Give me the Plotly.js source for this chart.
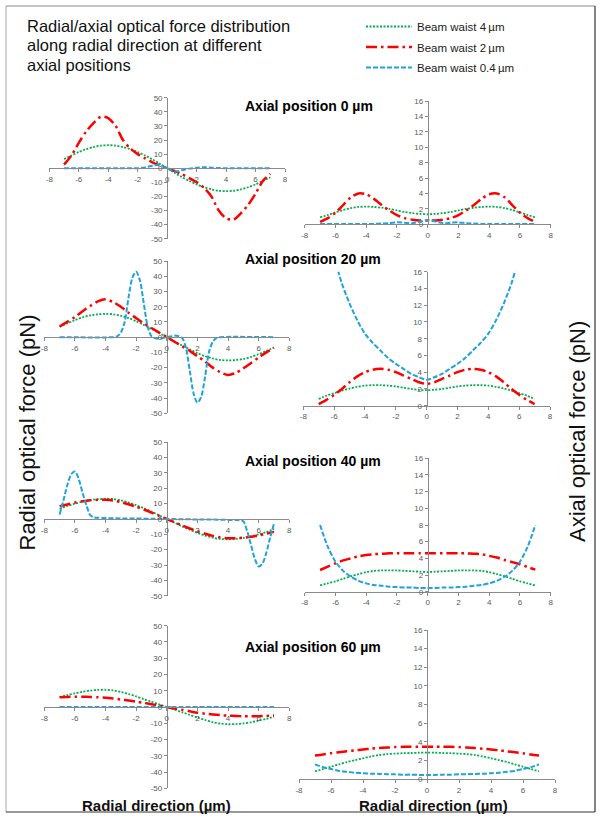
<!DOCTYPE html>
<html><head><meta charset="utf-8">
<script src="https://cdn.plot.ly/plotly-3.0.1.min.js"></script>
<style>html,body{margin:0;padding:0;background:#fff}#chart{width:602px;height:822px}</style>
</head><body><div id="chart"></div>
<script>
// ---------------- DATA ----------------
const seriesNames = ['Beam waist 4\u2009\u00b5m', 'Beam waist 2\u2009\u00b5m', 'Beam waist 0.4\u2009\u00b5m'];
const panelTitles = ['Axial position 0 \u00b5m', 'Axial position 20 \u00b5m', 'Axial position 40 \u00b5m', 'Axial position 60 \u00b5m'];

const radialX = [-7,-6.5,-6,-5.5,-5,-4.5,-4,-3.5,-3,-2.5,-2,-1.5,-1,-0.5,0,0.5,1,1.5,2,2.5,3,3.5,4,4.5,5,5.5,6,6.5,7];

// Axial position 0 um
const radial0_w4  = [6.5,9,11.5,13.5,15,16,16.3,16,15,13.5,11.5,9,6.3,3.2,0,-3.2,-6.3,-9,-11.5,-13.5,-15,-16,-16.3,-16,-15,-13.5,-11.5,-9,-6.5];
const radial0_w2  = [2.5,9,18,26,32,36.5,35.5,30,20,14,10,7,4.2,2,0,-2,-4.2,-7,-10,-14,-20,-30,-35.5,-36.5,-32,-26,-18,-9,-4];
const radial0_w04 = [0,0,0,0,0,0,0,0,0,0,0,0.5,1.8,2.4,0,-2.4,-1.5,-0.3,0.3,0.7,0.4,0.1,0,0,0,0,0,0,0];
const axial0_w4   = [0.9,1.2,1.55,1.85,2.1,2.25,2.3,2.25,2.15,2.0,1.8,1.6,1.45,1.35,1.3,1.35,1.45,1.6,1.8,2.0,2.15,2.25,2.3,2.25,2.1,1.85,1.55,1.2,0.9];
const axial0_w2   = [0.3,0.8,1.5,2.5,3.5,4.0,3.9,3.3,2.5,1.8,1.2,0.8,0.6,0.5,0.5,0.5,0.6,0.8,1.2,1.8,2.5,3.3,3.9,4.0,3.5,2.5,1.5,0.8,0.3];
const axial0_w04  = [0.05,0.05,0.05,0.05,0.05,0.05,0.05,0.05,0.1,0.15,0.25,0.2,0.15,0.35,0.55,0.35,0.15,0.2,0.25,0.15,0.1,0.05,0.05,0.05,0.05,0.05,0.05,0.05,0.05];

// Axial position 20 um
const radial20_w4  = [6.8,9,11.2,13,14.3,15,15.3,15,14,12.5,10.5,8,5.5,2.8,0,-2.8,-5.5,-8,-10.5,-12.5,-14,-15,-15.3,-15,-14.3,-13,-11.2,-9,-6.8];
const radial20_w2  = [7,10,13.3,17,20.5,23.5,24.8,23,20,16,12.5,9,6,3,0,-3,-6,-9,-12.5,-16,-20,-23,-24.8,-23.5,-20.5,-17,-13.3,-10,-7];
const radial20_w04X = [-7,-3.5,-3.25,-3,-2.75,-2.5,-2.25,-2,-1.75,-1.5,-1.25,-1,-0.75,-0.5,-0.25,0,0.25,0.5,0.75,1,1.25,1.5,1.75,2,2.25,2.5,2.75,3,3.25,3.5,7];
const radial20_w04  = [0,0,0.5,3,10,26,39,43,37,22,7,0.5,-0.7,-1,-0.5,0,0.5,1,0.7,-0.5,-7,-22,-37,-43,-39,-26,-10,-3,-0.5,0,0];
const axial20_w4   = [0.8,1.2,1.5,1.8,2.05,2.25,2.4,2.45,2.45,2.4,2.3,2.15,2.0,1.9,1.85,1.9,2.0,2.15,2.3,2.4,2.45,2.45,2.4,2.25,2.05,1.8,1.5,1.2,0.8];
const axial20_w2   = [0.2,0.7,1.3,2.0,2.8,3.5,4.0,4.3,4.4,4.3,4.0,3.6,3.2,2.8,2.6,2.8,3.2,3.6,4.0,4.3,4.4,4.3,4.0,3.5,2.8,2.0,1.3,0.7,0.2];
const axial20_w04X = [-6,-5.5,-5,-4.5,-4,-3.5,-3,-2.5,-2,-1.5,-1,-0.5,0,0.5,1,1.5,2,2.5,3,3.5,4,4.5,5,5.5,6];
const axial20_w04  = [17.8,14.6,12.2,10.2,8.6,7.5,6.6,5.7,5.0,4.4,3.8,3.4,3.1,3.4,3.8,4.4,5.0,5.7,6.6,7.5,8.6,10.2,12.2,14.6,17.8];

// Axial position 40 um
const radial40_w4  = [6.5,8.5,10,11.3,12.3,12.9,13.2,13,12.2,10.8,9,7,4.8,2.4,0,-2.4,-4.8,-7,-9,-10.8,-12.2,-13,-13.2,-12.9,-12.3,-11.3,-10,-8.5,-6.5];
const radial40_w2  = [8.3,9.5,10.7,11.6,12.2,12.5,12.5,12,11,9.6,8,6.2,4.2,2.1,0,-2.1,-4.2,-6.2,-8,-9.6,-11,-12,-12.5,-12.5,-12.2,-11.6,-10.7,-9.5,-8.3];
const radial40_w04X = [-7,-6.75,-6.5,-6.25,-6,-5.75,-5.5,-5.25,-5,-4.75,-4.5,-4,-3,-2,-1,0,1,2,3,4,4.5,4.75,5,5.25,5.5,5.75,6,6.25,6.5,6.75,7];
const radial40_w04  = [3,12,22,29,31,26,17,9,2.5,1,0.8,0.6,0.4,0.3,0.15,0,-0.15,-0.3,-0.4,-0.6,-0.7,-0.8,-1.5,-8,-17,-26,-31,-29,-22,-12,-3];
const axial40_w4   = [0.75,1.0,1.25,1.55,1.85,2.1,2.35,2.5,2.55,2.55,2.55,2.5,2.45,2.4,2.35,2.4,2.45,2.5,2.55,2.55,2.55,2.5,2.35,2.1,1.85,1.55,1.25,1.0,0.75];
const axial40_w2   = [2.6,3.0,3.4,3.75,4.0,4.25,4.4,4.5,4.55,4.6,4.6,4.6,4.6,4.6,4.6,4.6,4.6,4.6,4.6,4.6,4.55,4.5,4.3,4.1,3.8,3.55,3.3,2.95,2.65];
const axial40_w04  = [8,5.4,3.6,2.5,1.8,1.3,1.0,0.8,0.7,0.6,0.55,0.5,0.5,0.45,0.45,0.45,0.5,0.5,0.55,0.6,0.7,0.8,1.0,1.3,1.8,2.5,3.6,5.4,8];

// Axial position 60 um
const radial60_w4  = [6,7.3,8.4,9.4,10.1,10.5,10.6,10.2,9.3,8,6.5,4.8,3.2,1.6,0,-1.6,-3.2,-4.8,-6.5,-8,-9.3,-10.2,-10.6,-10.5,-10.1,-9.4,-8.4,-7.3,-6];
const radial60_w2  = [6,6.2,6.3,6.3,6.2,6,5.7,5.2,4.6,4,3.3,2.5,1.7,0.9,0,-0.9,-1.7,-2.6,-3.5,-4.1,-4.6,-5,-5.3,-5.5,-5.7,-5.7,-5.7,-5.5,-5.2];
const radial60_w04 = [0,0,0,0,0,0,0,0,0,0,0,0,0,0,0,0,0,0,0,0,0,0,0,0,0,0,0,0,0];
const axial60_w4   = [0.85,1.1,1.35,1.6,1.85,2.05,2.25,2.45,2.6,2.7,2.75,2.8,2.82,2.85,2.85,2.85,2.82,2.8,2.75,2.7,2.6,2.45,2.25,2.05,1.85,1.6,1.35,1.1,0.85];
const axial60_w2   = [2.55,2.65,2.8,2.9,3.0,3.1,3.2,3.28,3.35,3.4,3.45,3.48,3.5,3.5,3.5,3.5,3.5,3.48,3.45,3.4,3.35,3.28,3.2,3.1,3.0,2.9,2.8,2.65,2.55];
const axial60_w04  = [1.6,1.3,1.1,0.9,0.8,0.7,0.65,0.6,0.58,0.55,0.53,0.5,0.5,0.47,0.45,0.47,0.5,0.5,0.53,0.55,0.58,0.6,0.65,0.7,0.8,0.9,1.1,1.3,1.6];

// Tick labels
const radialTickVals = [-8,-6,-4,-2,0,2,4,6,8];
const radialTickText = ['-8','-6','-4','-2','0','2','4','6','8'];
const radialForceTickVals = [-50,-40,-30,-20,-10,0,10,20,30,40,50];
const radialForceTickText = ['-50','-40','-30','-20','-10','0','10','20','30','40','50'];
const axialForceTickVals = [0,2,4,6,8,10,12,14,16];
const axialForceTickText = ['0','2','4','6','8','10','12','14','16'];

// ---------------- LAYOUT / STYLE ----------------
const W = 602, H = 822;
const styles = [
  {color:'#00b050', dash:'2px,1.5px', width:1.8},
  {color:'#ff0000', dash:'11px,4px,2.5px,4px', width:2.5},
  {color:'#1fa2dd', dash:'5px,2px', width:2}
];
// pixel boxes for each panel: [left, right], [top, bottom]
const panels = [
  {kind:'radial', px:[49.3,285],  py:[97.7,238.7], data:[[radialX,radial0_w4],[radialX,radial0_w2],[radialX,radial0_w04]]},
  {kind:'axial',  px:[304.7,550.7], py:[101,224.3], data:[[radialX,axial0_w4],[radialX,axial0_w2],[radialX,axial0_w04]]},
  {kind:'radial', px:[44.3,289.3], py:[261,413.3], data:[[radialX,radial20_w4],[radialX,radial20_w2],[radial20_w04X,radial20_w04]]},
  {kind:'axial',  px:[303.3,550],  py:[271.7,405.7], data:[[radialX,axial20_w4],[radialX,axial20_w2],[axial20_w04X,axial20_w04]]},
  {kind:'radial', px:[44.3,289.3], py:[442.3,595.7], data:[[radialX,radial40_w4],[radialX,radial40_w2],[radial40_w04X,radial40_w04]]},
  {kind:'axial',  px:[304.7,550.7], py:[458.3,591.7], data:[[radialX,axial40_w4],[radialX,axial40_w2],[radialX,axial40_w04]]},
  {kind:'radial', px:[44.3,289.3], py:[625.7,788.3], data:[[radialX,radial60_w4],[radialX,radial60_w2],[radialX,radial60_w04]]},
  {kind:'axial',  px:[299,555],    py:[630,779.3], data:[[radialX,axial60_w4],[radialX,axial60_w2],[radialX,axial60_w04]]}
];

const tickFont = {family:'Liberation Sans, Arial, sans-serif', size:8, color:'#595959'};
const axisCommon = {showgrid:false, zeroline:false, showline:true, linecolor:'#8a8a8a', linewidth:1,
  ticks:'outside', ticklen:3, tickcolor:'#8a8a8a', tickwidth:1, tickfont:tickFont, fixedrange:true, tickmode:'array'};

const traces = [];
const layout = {
  width:W, height:H, margin:{l:0,r:0,t:0,b:0}, paper_bgcolor:'#ffffff', plot_bgcolor:'rgba(0,0,0,0)',
  showlegend:true,
  legend:{x:361/W, y:1-12/H, xanchor:'left', yanchor:'top', bgcolor:'rgba(0,0,0,0)', itemwidth:46,
    traceorder:'grouped', tracegroupgap:1.5,
    font:{family:'Liberation Sans, Arial, sans-serif', size:11.5, color:'#222'}},
  annotations:[], shapes:[]
};

panels.forEach((p, i) => {
  const n = i + 1;
  const xa = 'xaxis' + (n === 1 ? '' : n), ya = 'yaxis' + (n === 1 ? '' : n);
  const xref = 'x' + (n === 1 ? '' : n), yref = 'y' + (n === 1 ? '' : n);
  const xDom = [p.px[0]/W, p.px[1]/W];
  const yDom = [1 - p.py[1]/H, 1 - p.py[0]/H];
  const xMid = (xDom[0] + xDom[1]) / 2;
  const yMid = (yDom[0] + yDom[1]) / 2;
  layout[xa] = Object.assign({}, axisCommon, {domain:xDom, range:[-8,8], tickvals:radialTickVals, ticktext:radialTickText});
  if (p.kind === 'radial') {
    Object.assign(layout[xa], {anchor:'free', position:yMid});
    layout[ya] = Object.assign({}, axisCommon, {domain:yDom, range:[-50,50], anchor:'free', position:xMid,
      tickvals:radialForceTickVals, ticktext:radialForceTickText});
  } else {
    Object.assign(layout[xa], {anchor:yref});
    layout[ya] = Object.assign({}, axisCommon, {domain:yDom, range:[0,16], anchor:'free', position:xMid,
      tickvals:axialForceTickVals, ticktext:axialForceTickText});
  }
  p.data.forEach((d, s) => {
    traces.push({
      type:'scatter', mode:'lines', x:d[0], y:d[1], xaxis:xref, yaxis:yref,
      name:seriesNames[s], legendgroup:'s'+s, showlegend:(i === 0),
      line:{color:styles[s].color, dash:styles[s].dash, width:styles[s].width, shape:'spline', smoothing:0.8},
      hoverinfo:'skip'
    });
  });
});

// Panel titles
const titleY = [106.5, 259, 460.5, 647];
panelTitles.forEach((t, i) => {
  layout.annotations.push({text:'<b>'+t+'</b>', xref:'paper', yref:'paper', x:243/W, y:1-titleY[i]/H,
    xanchor:'left', yanchor:'middle', showarrow:false,
    font:{family:'Liberation Sans, Arial, sans-serif', size:14, color:'#000'}});
});
// Main title lines
const mainTitle = ['Radial/axial optical force distribution', 'along radial direction at different', 'axial positions'];
const mainY = [25.5, 45, 64.5];
mainTitle.forEach((t, i) => {
  layout.annotations.push({text:t, xref:'paper', yref:'paper', x:25/W, y:1-mainY[i]/H, xanchor:'left', yanchor:'middle',
    showarrow:false, font:{family:'Liberation Sans, Arial, sans-serif', size:16.5, color:'#111'}});
});
// Axis titles
layout.annotations.push({text:'Radial optical force (pN)', xref:'paper', yref:'paper', x:26.5/W, y:1-433/H,
  textangle:-90, xanchor:'center', yanchor:'middle', showarrow:false,
  font:{family:'Liberation Sans, Arial, sans-serif', size:22, color:'#111'}});
layout.annotations.push({text:'Axial optical force (pN)', xref:'paper', yref:'paper', x:577/W, y:1-432/H,
  textangle:-90, xanchor:'center', yanchor:'middle', showarrow:false,
  font:{family:'Liberation Sans, Arial, sans-serif', size:22, color:'#111'}});
[156, 434].forEach(cx => {
  layout.annotations.push({text:'<b>Radial direction (\u00b5m)</b>', xref:'paper', yref:'paper', x:cx/W, y:1-805/H,
    xanchor:'center', yanchor:'middle', showarrow:false,
    font:{family:'Liberation Sans, Arial, sans-serif', size:15, color:'#111'}});
});
// Outer frame
const fx0 = 6/W, fx1 = 595/W, fy0 = 1-6/H, fy1 = 1-812/H;
layout.shapes.push({type:'line', xref:'paper', yref:'paper', x0:fx0, x1:fx0, y0:fy0, y1:fy1, line:{color:'#a8a8a8', width:1}});
layout.shapes.push({type:'line', xref:'paper', yref:'paper', x0:fx0, x1:fx1, y0:fy0, y1:fy0, line:{color:'#8a8a8a', width:1}});
layout.shapes.push({type:'line', xref:'paper', yref:'paper', x0:fx1, x1:fx1, y0:fy0, y1:fy1, line:{color:'#333', width:1.2}});
layout.shapes.push({type:'line', xref:'paper', yref:'paper', x0:fx0, x1:fx1, y0:fy1, y1:fy1, line:{color:'#333', width:1.2}});

Plotly.newPlot('chart', traces, layout, {displayModeBar:false, staticPlot:true});
</script>
</body></html>
